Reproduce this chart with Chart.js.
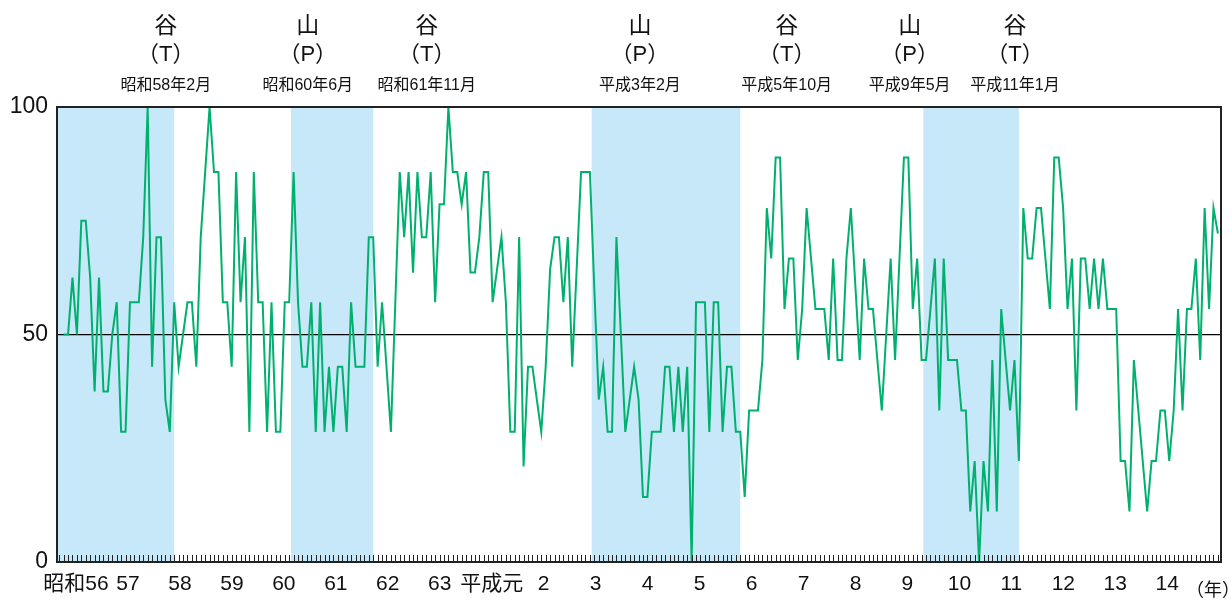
<!DOCTYPE html>
<html>
<head>
<meta charset="utf-8">
<script src="https://cdn.jsdelivr.net/npm/chart.js@4.4.1/dist/chart.umd.min.js"></script>
<style>
  html, body { margin: 0; padding: 0; background: #fff; }
  canvas { display: block; }
</style>
</head>
<body>
<canvas id="diChart" width="1232" height="601"></canvas>
<script>
// monthly DI, 昭和56年1月 .. 昭和63年12月
const showaValues = [
  50, 50, 62.5, 50, 75, 75, 62.5, 37.5, 62.5, 37.5, 37.5, 50,
  57.1, 28.6, 28.6, 57.1, 57.1, 57.1, 71.4, 100, 42.9, 71.4, 71.4, 35.7,
  28.6, 57.1, 42.9, 50, 57.1, 57.1, 42.9, 71.4, 85.7, 100, 85.7, 85.7,
  57.1, 57.1, 42.9, 85.7, 57.1, 71.4, 28.6, 85.7, 57.1, 57.1, 28.6, 57.1,
  28.6, 28.6, 57.1, 57.1, 85.7, 57.1, 42.9, 42.9, 57.1, 28.6, 57.1, 28.6,
  42.9, 28.6, 42.9, 42.9, 28.6, 57.1, 42.9, 42.9, 42.9, 71.4, 71.4, 42.9,
  57.1, 42.9, 28.6, 57.1, 85.7, 71.4, 85.7, 63.6, 85.7, 71.4, 71.4, 85.7,
  57.1, 78.6, 78.6, 100, 85.7, 85.7, 78.6, 85.7, 63.6, 63.6, 71.4, 85.7
];
// 平成元年1月 .. 平成14年10月
const heiseiValues = [
  85.7, 57.1, 64.3, 71.4, 57.1, 28.6, 28.6, 71.4, 21, 42.9, 42.9, 35.7,
  28.6, 42.9, 64.3, 71.4, 71.4, 57.1, 71.4, 42.9, 64.3, 85.7, 85.7, 85.7,
  60, 35.7, 42.9, 28.6, 28.6, 71.4, 50, 28.6, 35.7, 42.9, 35.7, 14.3,
  14.3, 28.6, 28.6, 28.6, 42.9, 42.9, 28.6, 42.9, 28.6, 42.9, 0, 57.1,
  57.1, 57.1, 28.6, 57.1, 57.1, 28.6, 42.9, 42.9, 28.6, 28.6, 14.3, 33.3,
  33.3, 33.3, 44.4, 77.8, 66.7, 88.9, 88.9, 55.6, 66.7, 66.7, 44.4, 55.6,
  77.8, 66.7, 55.6, 55.6, 55.6, 44.4, 66.7, 44.4, 44.4, 66.7, 77.8, 61.1,
  44.4, 66.7, 55.6, 55.6, 44.4, 33.3, 50, 66.7, 44.4, 66.7, 88.9, 88.9,
  55.6, 66.7, 44.4, 44.4, 55.6, 66.7, 33.3, 66.7, 44.4, 44.4, 44.4, 33.3,
  33.3, 11.1, 22.2, 0, 22.2, 11.1, 44.4, 11.1, 55.6, 44.4, 33.3, 44.4,
  22.2, 77.8, 66.7, 66.7, 77.8, 77.8, 66.7, 55.6, 88.9, 88.9, 77.8, 55.6,
  66.7, 33.3, 66.7, 66.7, 55.6, 66.7, 55.6, 66.7, 55.6, 55.6, 55.6, 22.2,
  22.2, 11.1, 44.4, 33.3, 22.2, 11.1, 22.2, 22.2, 33.3, 33.3, 22.2, 33.3,
  55.6, 33.3, 55.6, 55.6, 66.7, 44.4, 77.8, 55.6, 77.8, 72.2
];

const yearLabels = ['昭和56', '57', '58', '59', '60', '61', '62', '63', '平成元',
  '2', '3', '4', '5', '6', '7', '8', '9', '10', '11', '12', '13', '14'];

// turning points (month index counted from 昭和56年1月)
const turnKinds = ['谷', '山', '谷', '山', '谷', '山', '谷'];
const turnCodes = ['（T）', '（P）', '（T）', '（P）', '（T）', '（P）', '（T）'];
const turnDates = ['昭和58年2月', '昭和60年6月', '昭和61年11月', '平成3年2月',
  '平成5年10月', '平成9年5月', '平成11年1月'];
const turnMonths = [25, 53, 70, 121, 153, 196, 216];

const diValues = showaValues.concat(heiseiValues);

// layout bits
const FONT = "'Liberation Sans', 'Noto Sans CJK JP', sans-serif";
const labelAt = [23.1, 55.2, 82.1, 130.3, 163.5, 191.3, 215.1];
const labelStart = 2.8, labelPitch = 11.75;
const xMin = -1.5, xMax = 261.7;

const recessions = [];
let recStart = xMin;
turnKinds.forEach((k, i) => {
  if (k === '山') {
    recStart = turnMonths[i] - 1.6;
  } else {
    recessions.push([recStart, turnMonths[i]]);
  }
});

const cyclePlugin = {
  id: 'cycle',
  beforeDraw(chart) {
    const { ctx, chartArea: a } = chart;
    const x = chart.scales.x;
    ctx.save();
    ctx.fillStyle = '#c7e8f9';
    recessions.forEach(([from, to]) => {
      const x0 = Math.max(a.left, x.getPixelForValue(from));
      const x1 = x.getPixelForValue(to);
      ctx.fillRect(x0, a.top, x1 - x0, a.bottom - a.top);
    });
    ctx.restore();
  },
  afterDraw(chart) {
    const { ctx, chartArea: a } = chart;
    const x = chart.scales.x;
    ctx.save();

    // month ticks along the bottom
    ctx.strokeStyle = '#222';
    ctx.lineWidth = 1;
    ctx.beginPath();
    for (let m = -1; m <= 262; m++) {
      const px = Math.round(x.getPixelForValue(m)) + 0.5;
      if (px <= a.left + 1 || px >= a.right - 1) continue;
      ctx.moveTo(px, a.bottom - 7);
      ctx.lineTo(px, a.bottom);
    }
    ctx.stroke();

    // frame
    ctx.lineWidth = 2;
    ctx.strokeStyle = '#222';
    ctx.strokeRect(a.left, a.top, a.right - a.left, a.bottom - a.top);

    // peak / trough labels
    ctx.fillStyle = '#111';
    ctx.textAlign = 'center';
    ctx.textBaseline = 'middle';
    turnKinds.forEach((k, i) => {
      const cx = x.getPixelForValue(labelAt[i]);
      ctx.font = '23px ' + FONT;
      ctx.fillText(k, cx, 27);
      ctx.font = '22px ' + FONT;
      ctx.fillText(turnCodes[i], cx, 55);
      ctx.font = '16px ' + FONT;
      ctx.fillText(turnDates[i], cx, 86);
    });

    ctx.font = '18px ' + FONT;
    ctx.fillText('（年）', a.right - 8, a.bottom + 29);
    ctx.restore();
  }
};

new Chart(document.getElementById('diChart'), {
  type: 'line',
  data: {
    datasets: [{
      data: diValues.map((v, i) => ({ x: i, y: v })),
      borderColor: '#00b06e',
      borderWidth: 2,
      pointRadius: 0,
      tension: 0,
      fill: false
    }]
  },
  options: {
    responsive: false,
    animation: false,
    devicePixelRatio: 1,
    layout: { padding: { top: 107, right: 11, left: 0, bottom: 0 } },
    plugins: { legend: { display: false }, tooltip: { enabled: false } },
    scales: {
      x: {
        type: 'linear',
        min: xMin,
        max: xMax,
        afterBuildTicks: (axis) => {
          axis.ticks = yearLabels.map((l, k) => ({ value: labelStart + k * labelPitch }));
        },
        afterFit: (scale) => { scale.height = 39; },
        grid: { display: false },
        border: { display: false },
        ticks: {
          autoSkip: false,
          maxRotation: 0,
          padding: 2,
          color: '#111',
          font: { family: FONT, size: 21 },
          callback: (value, index) => yearLabels[index]
        }
      },
      y: {
        min: 0,
        max: 100,
        afterFit: (scale) => { scale.width = 57; },
        border: { display: false },
        grid: {
          drawTicks: false,
          color: (c) => (c.tick && c.tick.value === 50 ? '#000' : 'rgba(0,0,0,0)'),
          lineWidth: 1.2
        },
        ticks: {
          stepSize: 50,
          padding: 9,
          color: '#111',
          font: { family: FONT, size: 23 }
        }
      }
    }
  },
  plugins: [cyclePlugin]
});
</script>
</body>
</html>
